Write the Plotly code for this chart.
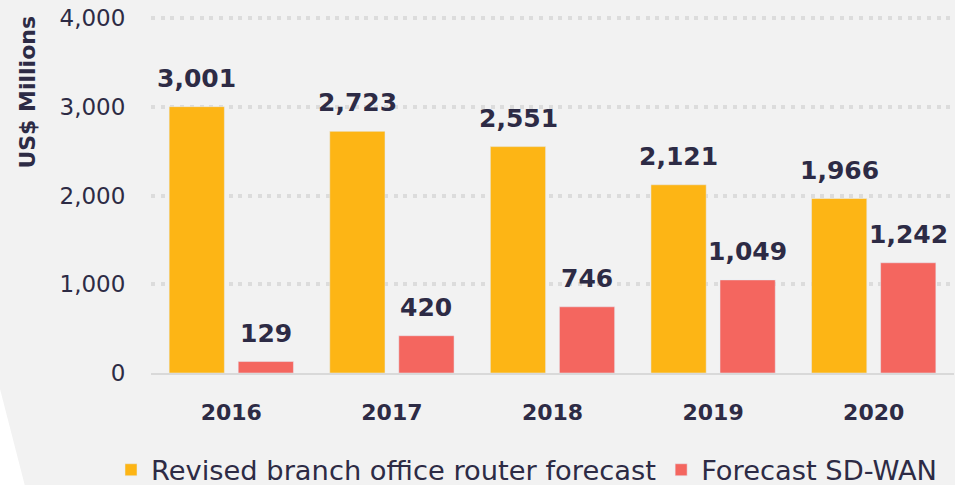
import plotly.graph_objects as go

years = ["2016", "2017", "2018", "2019", "2020"]
router = [3001, 2723, 2551, 2121, 1966]
sdwan = [129, 420, 746, 1049, 1242]
series_names = ["Revised branch office router forecast", "Forecast SD-WAN"]
y_ticks = [0, 1000, 2000, 3000, 4000]

TXT = "#2D2B45"
BG = "#F2F2F2"
FONT = "DejaVu Sans"
colors = ["#FDB515", "#F4665F"]

fig = go.Figure()
for name, vals, col in zip(series_names, [router, sdwan], colors):
    fig.add_trace(go.Bar(x=years, y=vals, name=name, marker_color=col))

# value labels above bars (x = category index on the category axis)
for vals, shift in [(router, -34.5), (sdwan, 34.5)]:
    for i, v in enumerate(vals):
        fig.add_annotation(x=i, y=v, text=f"<b>{v:,}</b>", showarrow=False,
                           xshift=shift, yshift=12, yanchor="bottom", xanchor="center",
                           font=dict(family=FONT, size=25, color=TXT))

fig.add_shape(type="path", xref="paper", yref="paper", layer="below",
              path="M -0.19 -0.028 L -0.157 -0.315 L -0.19 -0.315 Z",
              fillcolor="white", line=dict(width=0))

fig.add_annotation(text="<b>US$ Millions</b>", textangle=-90, xref="paper", yref="paper",
                   x=-0.1532, y=0.786, xanchor="center", yanchor="middle", showarrow=False,
                   font=dict(family=FONT, size=22, color=TXT))

fig.update_layout(
    width=955, height=485,
    margin=dict(l=151, r=1, t=15, b=112, autoexpand=False),
    paper_bgcolor=BG, plot_bgcolor=BG,
    barmode="group", bargap=0.14, bargroupgap=0.2,
    font=dict(family=FONT, color=TXT),
    showlegend=True,
    legend=dict(orientation="h", x=-0.0498, xanchor="left", y=-0.271, yanchor="middle",
                font=dict(family=FONT, size=27.3, color=TXT), bgcolor="rgba(0,0,0,0)",
                traceorder="normal"),
    xaxis=dict(type="category", range=[-0.5, 4.5], showgrid=False, showline=True,
               linecolor="#D9D9D9", linewidth=2,
               ticks="outside", ticklen=19, tickcolor="rgba(0,0,0,0)",
               tickfont=dict(family=FONT, size=22, color=TXT, weight="bold")),
    yaxis=dict(range=[0, 4034], tickvals=y_ticks, tickformat=",",
               showgrid=True, gridcolor="#DCDCDC", gridwidth=4, griddash="4px,5.7px",
               zeroline=False, showline=False,
               ticks="outside", ticklen=20, tickcolor="rgba(0,0,0,0)",
               tickfont=dict(family=FONT, size=23, color=TXT)),
)

fig.write_html("out.html")
